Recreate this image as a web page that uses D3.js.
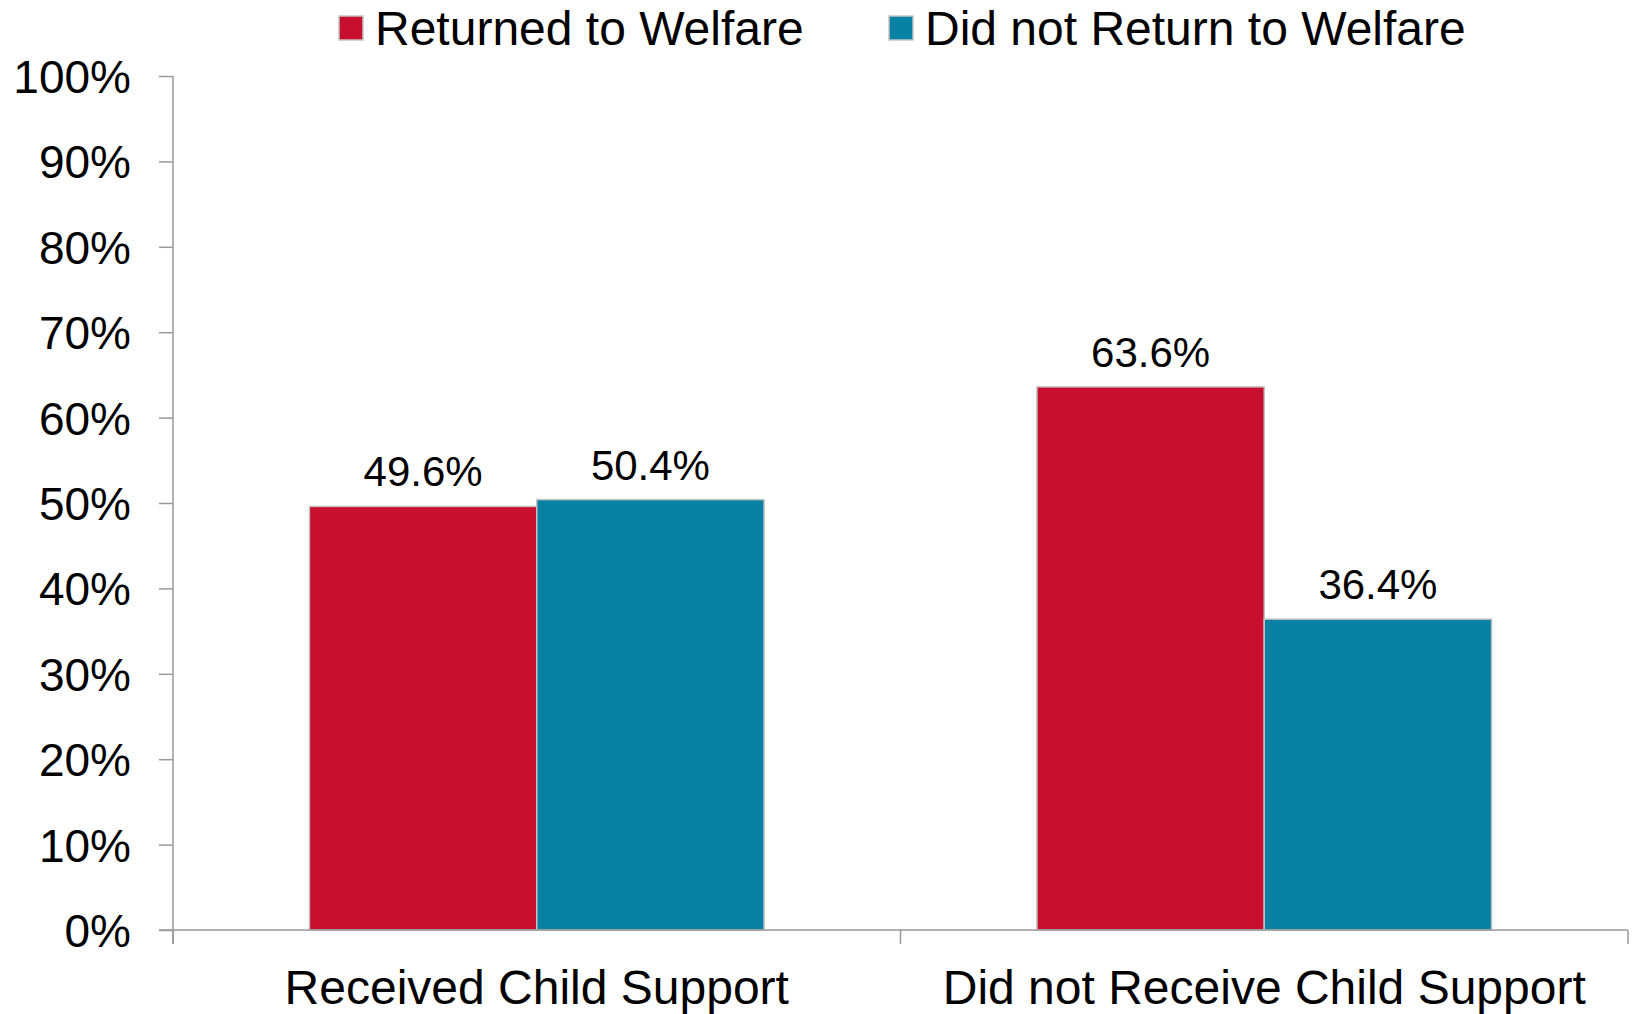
<!DOCTYPE html>
<html>
<head>
<meta charset="utf-8">
<script src="https://cdn.jsdelivr.net/npm/d3@7"></script>
<style>
  body { margin: 0; background: #fff; }
  svg { display: block; font-family: "Liberation Sans", Arial, sans-serif; }
</style>
</head>
<body>
<svg id="chart"></svg>
<script>
// data
var categories = ["Received Child Support", "Did not Receive Child Support"];
var seriesNames = ["Returned to Welfare", "Did not Return to Welfare"];
var returnedValues = [49.6, 63.6];
var notReturnedValues = [50.4, 36.4];
var yTicks = [0, 10, 20, 30, 40, 50, 60, 70, 80, 90, 100];
var colors = ["#c8102e", "#0881a3"];

var rows = categories.map(function(c, i) {
    return { cat: c, values: [returnedValues[i], notReturnedValues[i]] };
});

// dimensions
var W = 1633, H = 1014;
var margin = {top: 76, right: 5, bottom: 84, left: 173};
var width = W - margin.left - margin.right,
    height = H - margin.top - margin.bottom;

var svg = d3.select("#chart")
    .attr("width", W)
    .attr("height", H)
    .append("g")
    .attr("transform", "translate(" + margin.left + "," + margin.top + ")");

var x0 = d3.scaleBand()
    .domain(categories)
    .range([0, width])
    .padding(0);

var x1 = d3.scaleBand()
    .domain(seriesNames)
    .range([0, x0.bandwidth()])
    .paddingInner(0)
    .paddingOuter(0.6);

var y = d3.scaleLinear()
    .domain([0, 100])
    .range([height, 0]);

var axisColor = "#999";

// Y axis
var yAxis = svg.append("g")
    .call(d3.axisLeft(y)
        .tickValues(yTicks)
        .tickSize(14)
        .tickPadding(28)
        .tickFormat(function(d) { return d + "%"; }));
yAxis.select(".domain").attr("stroke", axisColor).attr("stroke-width", 1.5)
    .attr("d", "M0,0V" + (height + 14));
yAxis.selectAll(".tick line").attr("stroke", axisColor).attr("stroke-width", 1.5);
yAxis.selectAll(".tick text")
    .attr("fill", "#000")
    .style("font-size", "46px")
    .attr("dy", "0.36em");

// bars
var groups = svg.selectAll(".grp")
    .data(rows)
    .join("g")
    .attr("class", "grp")
    .attr("transform", function(d) { return "translate(" + x0(d.cat) + ",0)"; });

groups.selectAll("rect")
    .data(function(d) { return d.values.map(function(v, i) { return {s: seriesNames[i], v: v, i: i}; }); })
    .join("rect")
    .attr("x", function(d) { return x1(d.s); })
    .attr("y", function(d) { return y(d.v); })
    .attr("width", x1.bandwidth())
    .attr("height", function(d) { return height - y(d.v); })
    .attr("fill", function(d) { return colors[d.i]; })
    .attr("stroke", "#c4c4c4")
    .attr("stroke-width", 1.5);

groups.selectAll("text.val")
    .data(function(d) { return d.values.map(function(v, i) { return {s: seriesNames[i], v: v}; }); })
    .join("text")
    .attr("class", "val")
    .attr("x", function(d) { return x1(d.s) + x1.bandwidth() / 2; })
    .attr("y", function(d) { return y(d.v) - 20; })
    .attr("text-anchor", "middle")
    .style("font-size", "42px")
    .text(function(d) { return d.v.toFixed(1) + "%"; });

// X axis
var xAxis = svg.append("g")
    .attr("transform", "translate(0," + height + ")");
xAxis.append("line")
    .attr("x1", -14).attr("x2", width)
    .attr("stroke", axisColor).attr("stroke-width", 1.5);
var bounds = categories.map(function(c) { return x0(c); }).concat([x0.range()[1]]);
xAxis.selectAll(".bt")
    .data(bounds)
    .join("line")
    .attr("class", "bt")
    .attr("x1", function(d) { return d; })
    .attr("x2", function(d) { return d; })
    .attr("y1", 0).attr("y2", 14)
    .attr("stroke", axisColor).attr("stroke-width", 1.5);
xAxis.selectAll(".cl")
    .data(categories)
    .join("text")
    .attr("class", "cl")
    .attr("x", function(d) { return x0(d) + x0.bandwidth() / 2; })
    .attr("y", 74)
    .attr("text-anchor", "middle")
    .style("font-size", "48px")
    .text(function(d) { return d; });

// legend
var legendX = [339 - margin.left, 889 - margin.left];
var legend = svg.selectAll(".lg")
    .data(seriesNames)
    .join("g")
    .attr("class", "lg")
    .attr("transform", function(d, i) { return "translate(" + legendX[i] + "," + (-60) + ")"; });
legend.append("rect")
    .attr("width", 24).attr("height", 24)
    .attr("fill", function(d, i) { return colors[i]; })
    .attr("stroke", "#c4c4c4")
    .attr("stroke-width", 1.5);
legend.append("text")
    .attr("x", 36)
    .attr("y", 29)
    .style("font-size", "48px")
    .text(function(d) { return d; });
</script>
</body>
</html>
